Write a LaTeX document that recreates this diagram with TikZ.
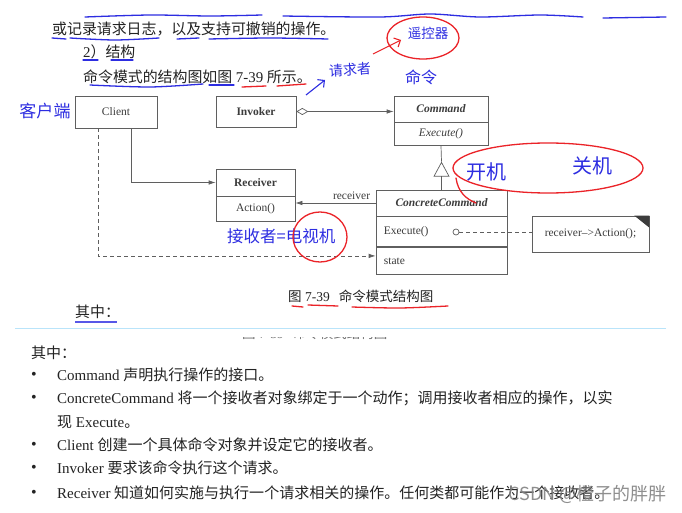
\documentclass[tikz,border=0pt]{standalone}
\usepackage{fontspec}
\setmainfont{Liberation Serif}
\newfontfamily\cjk{Noto Sans CJK SC}
\usetikzlibrary{arrows.meta,calc}
\definecolor{txt}{RGB}{35,35,35}
\definecolor{dg}{RGB}{60,60,60}
\definecolor{ln}{RGB}{95,95,95}
\definecolor{pen}{RGB}{45,45,225}
\definecolor{redpen}{RGB}{235,35,40}
\definecolor{sepc}{RGB}{185,228,250}
\definecolor{wm}{RGB}{130,130,130}
\begin{document}
\begin{tikzpicture}[x=1pt,y=-1pt,
  umlbox/.style={draw=ln, line width=0.7pt, inner sep=0pt, text=dg, font=\fontsize{11.5}{13}\selectfont},
  umltext/.style={inner sep=0pt, text=dg, font=\fontsize{11.5}{13}\selectfont},
  conn/.style={draw=ln, line width=0.7pt},
  tipA/.style={-{Latex[length=7pt,width=4.5pt]}},
  toptxt/.style={inner sep=0pt, anchor=west, text=txt, font=\fontsize{14.9}{17}\selectfont},
  captxt/.style={inner sep=0pt, anchor=west, text=txt, font=\fontsize{13.5}{16}\selectfont},
  listtxt/.style={inner sep=0pt, anchor=west, text=txt, font=\fontsize{15}{18}\selectfont},
  bul/.style={inner sep=0pt, text=txt, font=\fontsize{16}{18}\selectfont},
  hw/.style={inner sep=0pt, text=pen},
  bluepen/.style={draw=pen, line width=1.3pt, line cap=round},
  redline/.style={draw=redpen, line width=1.3pt, line cap=round}
]
\useasboundingbox (0,0) rectangle (682,513);
\fill[white] (0,0) rectangle (682,513);

% ---------- upper text ----------
\node[toptxt] (l1) at (52,29) {\cjk 或记录请求日志，以及支持可撤销的操作。};
\node[toptxt] (l2) at (83,52) {2{\cjk ）结构}};
\node[toptxt] (l3) at (83,77) {{\cjk 命令模式的结构图如图} 7-39 {\cjk 所示。}};

% ---------- UML diagram ----------
\node[umlbox, minimum width=82, minimum height=32] (client) at (116,112) {Client};
\node[umlbox, minimum width=80, minimum height=31] (invoker) at (256,111.5) {\bfseries Invoker};
\node[umlbox, minimum width=94, minimum height=26] (cmd) at (441,109) {\bfseries\itshape Command};
\node[umlbox, minimum width=94, minimum height=23, anchor=north] (cmdop) at (cmd.south) {\itshape Execute()};
\node[umlbox, minimum width=79, minimum height=27] (rec) at (255.5,182.5) {\bfseries Receiver};
\node[umlbox, minimum width=79, minimum height=25, anchor=north] (recop) at (rec.south) {Action()};
\node[umlbox, minimum width=131, minimum height=26] (cc) at (441.5,203) {\bfseries\itshape ConcreteCommand};
\node[umlbox, minimum width=131, minimum height=30, anchor=north] (ccop) at (cc.south) {};
\node[umlbox, minimum width=131, minimum height=27, anchor=north] (ccst) at (ccop.south) {};
\node[umltext, anchor=west] (ccexec) at ([xshift=8pt]ccop.west) {Execute()};
\node[umltext, anchor=west] (ccstate) at ([xshift=8pt]ccst.west) {state};
\node[circle, draw=ln, line width=0.7pt, fill=white, inner sep=0pt, minimum size=6pt] (dot) at (456,232) {};
\node[umlbox, minimum width=117, minimum height=36] (note) at (590.5,234) {receiver\textendash>Action();};
\fill[dg] (note.north east) -- ++(-15,0) -- ++(15,12) -- cycle;

% connectors
\draw[conn, {Diamond[open,length=12pt,width=7pt]}-{Latex[length=7pt,width=4.5pt]}] (invoker.east) -- (invoker.east -| cmd.west);
\coordinate (apex) at ($(cc.north)+(0,-28)$);
\draw[conn, -{Triangle[open,length=15pt,width=16pt]}] (cc.north) -- (apex);
\draw[conn] (apex) -- (cmdop.south);
\draw[conn, tipA] (cc.west) -- node[umltext, above=3pt, pos=0.3] (rlab) {receiver} (cc.west -| recop.east);
\draw[conn, tipA] ([xshift=15pt]client.south) |- (rec.west);
\draw[conn, tipA, dash pattern=on 4pt off 3pt] ([xshift=-18pt]client.south) |- ([yshift=5pt]ccst.west);
\draw[conn, dash pattern=on 4pt off 3pt] (dot.east) -- (dot.east -| note.west);

% caption
\node[captxt] (cap) at (288,296) {{\cjk 图} 7-39\hspace{9pt}{\cjk 命令模式结构图}};
\node[toptxt] (qz1) at (75,312) {\cjk 其中：};
\draw[sepc, line width=1pt] (15,328) -- (666,328);
\begin{scope}
  \clip (0,337) rectangle (682,344);
  \node[captxt, text=black!55] (capcut) at (242,333) {{\cjk 图} 7-39\hspace{9pt}{\cjk 命令模式结构图}};
\end{scope}

% ---------- lower list ----------
\node[listtxt] (qz2) at (31,353) {\cjk 其中：};
\node[bul] (b1) at (34,376) {\textbullet};
\node[bul] (b2) at (34,399) {\textbullet};
\node[bul] (b4) at (34,446) {\textbullet};
\node[bul] (b5) at (34,469) {\textbullet};
\node[bul] (b6) at (34,494) {\textbullet};
\node[listtxt] (t1) at (57,375) {Command {\cjk 声明执行操作的接口。}};
\node[listtxt] (t2) at (57,398) {ConcreteCommand {\cjk 将一个接收者对象绑定于一个动作；调用接收者相应的操作，以实}};
\node[listtxt] (t3) at (57,422) {{\cjk 现} Execute{\cjk 。}};
\node[listtxt] (t4) at (57,445) {Client {\cjk 创建一个具体命令对象并设定它的接收者。}};
\node[listtxt] (t5) at (57,468) {Invoker {\cjk 要求该命令执行这个请求。}};
\node[listtxt] (t6) at (57,493) {Receiver {\cjk 知道如何实施与执行一个请求相关的操作。任何类都可能作为一个接收者。}};
\node[inner sep=0pt, anchor=east, text=wm, text opacity=0.9, font=\cjk\fontsize{18}{20}\selectfont] (wmk) at (667,494) {CSDN @橙子的胖胖};

% ---------- hand annotations ----------
\draw[bluepen] plot[smooth] coordinates {(85,17) (150,15) (210,16) (262,15)};
\draw[bluepen] plot[smooth] coordinates {(283,16) (380,17) (430,14) (480,17) (540,15) (583,17)};
\draw[bluepen] (603,18) -- (666,17);
\draw[bluepen] (52,38) -- (66,39);
\draw[bluepen] plot[smooth] coordinates {(70,38) (115,40) (159,38)};
\draw[bluepen] (177,39) -- (199,38);
\draw[bluepen] plot[smooth] coordinates {(209,39) (270,38) (328,39)};
\draw[bluepen] (83,60) -- (98,60);
\draw[bluepen] (111,60) -- (133,60);
\draw[bluepen] plot[smooth] coordinates {(90,85) (150,87) (203,84)};
\draw[bluepen] (209,85) -- (234,85);
\draw[redline] (242,87) -- (266,86);
\draw[redline] (277,86) -- (306,84);
\draw[pen, line width=1.1pt, -{Straight Barb[length=5pt]}] (306,95) -- (325,80);
\node[hw, font=\cjk\fontsize{14}{14}\selectfont, rotate=4] (hwreq) at (350,70) {请求者};
\draw[redpen, line width=1.1pt, -{Straight Barb[length=5pt]}] (373,54) -- (401,40);
\draw[redline] (423,38) ellipse [x radius=36, y radius=21];
\node[hw, font=\cjk\fontsize{13.5}{14}\selectfont] (hwrc) at (428,33) {遥控器};
\node[hw, font=\cjk\fontsize{16}{16}\selectfont] (hwcmd) at (421,77) {命令};
\node[hw, font=\cjk\fontsize{17}{17}\selectfont] (hwcl) at (45,111) {客户端};
\node[hw, anchor=west, font=\cjk\fontsize{16.5}{17}\selectfont] (hwrec) at (227,236) {接收者=电视机};
\draw[redline] (320,237) ellipse [x radius=27, y radius=25];
\draw[redline] (548,168) ellipse [x radius=95, y radius=25];
\draw[redline] (456,178) .. controls (458,192) and (466,199) .. (476,203);
\node[hw, font=\cjk\fontsize{20}{20}\selectfont] (hwon) at (486,172) {开机};
\node[hw, font=\cjk\fontsize{20}{20}\selectfont] (hwoff) at (592,166) {关机};
\draw[redline] (292,306) -- (303,307);
\draw[redline] (308,305) -- (338,306);
\draw[redline] plot[smooth] coordinates {(352,307) (400,308) (448,306)};
\draw[draw=pen!80!white, line width=2pt] (75,322) -- (117,322);
\end{tikzpicture}
\end{document}
